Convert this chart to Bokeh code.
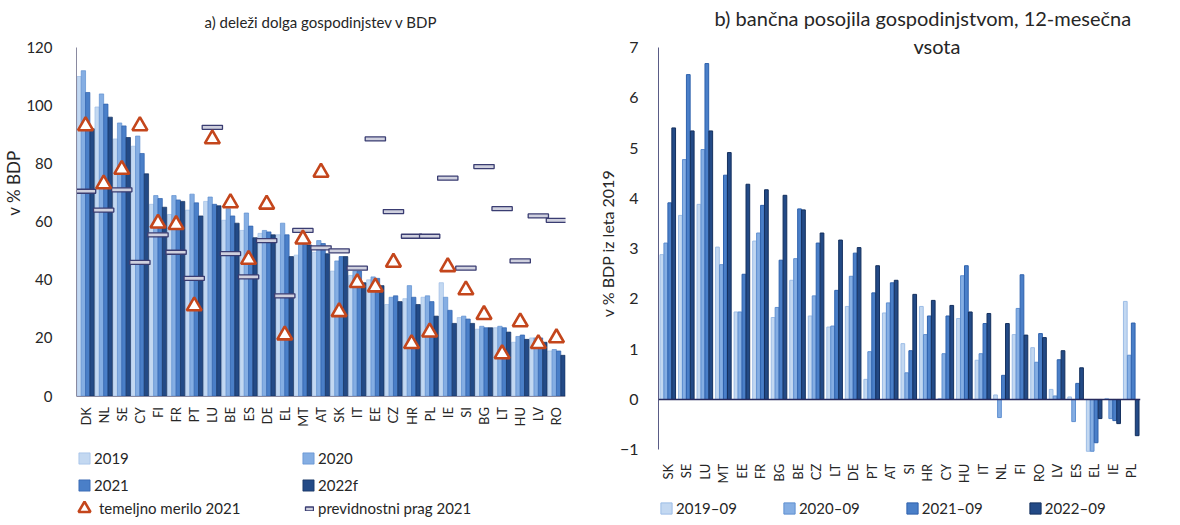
import math
from bokeh.plotting import figure
from bokeh.models import (ColumnDataSource, Legend, LegendItem, Range1d, FactorRange,
                          Span, FixedTicker, Title, Label)
from bokeh.transform import dodge
from bokeh.layouts import row
from bokeh.embed import file_html
from bokeh.resources import INLINE

# ---------------- data: a) household debt, % of GDP ----------------
cats_a = ["DK", "NL", "SE", "CY", "FI", "FR", "PT", "LU", "BE", "ES", "DE", "EL", "MT", "AT",
          "SK", "IT", "EE", "CZ", "HR", "PL", "IE", "SI", "BG", "LT", "HU", "LV", "RO"]
debt_2019 = [110, 99.5, 88.5, 86, 66, 62.5, 64, 67, 60.5, 57, 56, 55.5, 48.5, 49.5,
             43, 41.5, 40, 31.5, 33.5, 34, 39, 27, 23, 23.5, 18.5, 20, 15.5]
debt_2020 = [112, 104, 94, 89.5, 69, 69, 69.5, 68.5, 64.5, 63, 57, 59.5, 54, 53.5,
             46.5, 43, 41, 34, 38, 34.5, 34, 27.5, 24, 24, 20.5, 20, 16]
debt_2021 = [104.5, 100.5, 93, 83.5, 68, 67.5, 66.5, 66, 62, 58.5, 56.5, 55.5, 53.5, 52.5,
             48, 43, 40.5, 34.5, 34, 32.5, 29.5, 26.5, 23.5, 23.5, 21, 20, 15.5]
debt_2022f = [92, 96, 89, 76.5, 65, 67, 62, 65.5, 59.5, 54.5, 55.5, 48, 52, 49,
              48, 39, 38, 32.5, 31.5, 27.5, 25, 25, 23.5, 22, 19.5, 18.5, 14]
benchmark_2021 = [93, 73, 78, 93, 59.5, 59, 31, 88.5, 66.5, 47, 66, 21, 54, 77,
                  29, 39, 37.5, 46, 18, 22, 44.5, 36.5, 28, 14.5, 25.5, 18, 20]
threshold_2021 = [70.5, 64, 71, 46, 55.5, 49.5, 40.5, 92.5, 49, 41, 53.5, 34.5, 57, 51,
                  50, 44, 88.5, 63.5, 55, 55, 75, 44, 79, 64.5, 46.5, 62, 60.5]
yticks_a = [0, 20, 40, 60, 80, 100, 120]

# ---------------- data: b) bank loans to households, 12-month sum ----------------
cats_b = ["SK", "SE", "LU", "MT", "EE", "FR", "BG", "BE", "CZ", "LT", "DE", "PT", "AT",
          "SI", "HR", "CY", "HU", "IT", "NL", "FI", "RO", "LV", "ES", "EL", "IE", "PL"]
loan_2019_09 = [2.88, 3.66, 3.88, 3.03, 1.74, 3.15, 1.63, 2.37, 1.66, 1.44, 1.85, 0.40, 1.72,
                1.11, 1.85, 0.02, 1.61, 0.78, 0.09, 1.29, 1.03, 0.20, 0.05, -1.03, 0.02, 1.95]
loan_2020_09 = [3.11, 4.77, 4.97, 2.68, 1.74, 3.31, 1.83, 2.80, 2.06, 1.46, 2.45, 0.95, 1.92,
                0.53, 1.29, 0.91, 2.46, 0.91, -0.36, 1.81, 0.74, 0.07, -0.44, -1.03, -0.38, 0.88]
loan_2021_09 = [3.91, 6.46, 6.68, 4.46, 2.49, 3.86, 2.77, 3.79, 3.11, 2.17, 2.91, 2.12, 2.32,
                0.97, 1.66, 1.66, 2.66, 1.51, 0.48, 2.48, 1.31, 0.79, 0.32, -0.86, -0.42, 1.52]
loan_2022_09 = [5.40, 5.34, 5.34, 4.91, 4.28, 4.17, 4.06, 3.77, 3.31, 3.17, 3.02, 2.66, 2.37,
                2.09, 1.97, 1.87, 1.74, 1.71, 1.51, 1.28, 1.23, 0.97, 0.63, -0.38, -0.48, -0.72]
yticks_b = [-1, 0, 1, 2, 3, 4, 5, 6, 7]

FONT = "Lato"
TXT = "#262626"
FILLS = ["#c3d8f1", "#85aee3", "#4a7fc8", "#234a86"]
LINES = ["#9dbde6", "#5f8fd0", "#2f62ad", "#14305e"]


def style(p):
    p.xgrid.visible = False
    p.ygrid.visible = False
    p.outline_line_color = None
    p.background_fill_color = "white"
    p.border_fill_color = "white"
    p.title.text_font = FONT
    p.title.text_font_style = "normal"
    p.title.text_color = TXT
    p.title.vertical_align = "top"
    for ax in (p.xaxis, p.yaxis):
        ax.major_label_text_font = FONT
        ax.major_label_text_color = TXT
        ax.major_tick_line_color = None
        ax.minor_tick_line_color = None


def side_title(text, size, offset):
    return Title(text=text, align="right", offset=offset, standoff=0, text_font=FONT,
                 text_font_style="normal", text_font_size=size, text_color=TXT)


def legend(items, loc, gw=14, gh=14, standoff=3, **kw):
    return Legend(items=items, location=loc, border_line_color=None, background_fill_alpha=0,
                  padding=0, margin=0, glyph_width=gw, glyph_height=gh, label_standoff=standoff,
                  label_height=16, label_text_font=FONT, label_text_font_size="15px",
                  label_text_color=TXT, **kw)


# ================= chart a =================
src_a = ColumnDataSource(dict(cat=cats_a, y19=debt_2019, y20=debt_2020, y21=debt_2021,
                              y22=debt_2022f, bench=benchmark_2021, thr=threshold_2021))
p1 = figure(width=595, height=517, x_range=FactorRange(*cats_a), y_range=Range1d(-41.83, 123.43),
            output_backend="svg", toolbar_location=None,
            title="a) deleži dolga gospodinjstev v BDP",
            min_border_left=68, min_border_right=30, min_border_top=35, min_border_bottom=0)
style(p1)
p1.title.align = "center"
p1.title.text_font_size = "15px"
p1.title.standoff = 10
bars_a = []
for col, off, fc, lc in zip(["y19", "y20", "y21", "y22"], [-0.36, -0.12, 0.12, 0.36], FILLS, LINES):
    r = p1.vbar(x=dodge("cat", off, range=p1.x_range), top=col, width=0.24, bottom=0,
                source=src_a, fill_color=fc, line_color=lc, line_width=0.7)
    bars_a.append(r)
r_thr = p1.rect(x="cat", y="thr", width=1.12, height=4, height_units="screen", source=src_a,
                fill_color="#cfd0de", line_color="#3a3d72", line_width=1.3)
r_bench = p1.scatter(x="cat", y="bench", marker="triangle", size=15, source=src_a,
                     fill_color="white", line_color="#c4461c", line_width=2.6)

p1.yaxis.ticker = FixedTicker(ticks=yticks_a)
p1.yaxis.bounds = (0, 120)
p1.yaxis.major_label_text_font_size = "15px"
p1.yaxis.major_label_standoff = 18
p1.yaxis.axis_line_color = "#8a8aa0"
p1.add_layout(side_title("v % BDP", "17px", 113), "left")
p1.xaxis.fixed_location = 0
p1.xaxis.axis_line_color = "#8a8aa0"
p1.xaxis.major_label_orientation = math.pi / 2
p1.xaxis.major_label_text_font_size = "13px"
p1.xaxis.major_label_standoff = 5

lgA1 = legend([LegendItem(label="2019", renderers=[bars_a[0]]),
               LegendItem(label="2021", renderers=[bars_a[2]])], (1, 23), spacing=9)
lgA2 = legend([LegendItem(label="temeljno merilo 2021", renderers=[r_bench])],
              (-7, -6), gw=30, gh=30, standoff=-5)
lgB1 = legend([LegendItem(label="2020", renderers=[bars_a[1]]),
               LegendItem(label="2022f", renderers=[bars_a[3]])], (225, 23), spacing=9)
lgB2 = legend([LegendItem(label="previdnostni prag 2021", renderers=[r_thr])],
              (228, 0), gw=10, gh=5, standoff=4)
for lg in (lgA1, lgA2, lgB1, lgB2):
    p1.add_layout(lg, "center")

# ================= chart b =================
src_b = ColumnDataSource(dict(cat=cats_b, y19=loan_2019_09, y20=loan_2020_09,
                              y21=loan_2021_09, y22=loan_2022_09))
p2 = figure(width=569, height=517, x_range=FactorRange(*cats_b), y_range=Range1d(-2.347, 7.198),
            output_backend="svg", toolbar_location=None,
            title="b) bančna posojila gospodinjstvom, 12-mesečna",
            min_border_left=59, min_border_right=24, min_border_top=35, min_border_bottom=0)
style(p2)
p2.title.align = "left"
p2.title.offset = 56
p2.title.text_font_size = "20px"
p2.title.standoff = 11
p2.add_layout(Label(x=13.75, y=7.03, text="vsota", text_font=FONT, text_font_size="20px",
                    text_color=TXT, text_baseline="middle", text_align="left"))
bars_b = []
for col, off, fc, lc in zip(["y19", "y20", "y21", "y22"], [-0.32, -0.107, 0.107, 0.32], FILLS, LINES):
    r = p2.vbar(x=dodge("cat", off, range=p2.x_range), top=col, width=0.2, bottom=0,
                source=src_b, fill_color=fc, line_color=lc, line_width=1)
    bars_b.append(r)
p2.add_layout(Span(location=0, dimension="width", line_color="#262a5c", line_width=1.4))

p2.yaxis.ticker = FixedTicker(ticks=yticks_b)
p2.yaxis.bounds = (-1, 7)
p2.yaxis.major_label_text_font_size = "16px"
p2.yaxis.major_label_standoff = 14
p2.yaxis.axis_line_color = "#5a5c86"
p2.add_layout(side_title("v % BDP iz leta 2019", "16px", 132), "left")
p2.xaxis.fixed_location = -1
p2.xaxis.axis_line_color = None
p2.xaxis.major_label_orientation = math.pi / 2
p2.xaxis.major_label_text_font_size = "13px"
p2.xaxis.major_label_standoff = 8

lgC = legend([LegendItem(label="2019–09", renderers=[bars_b[0]]),
              LegendItem(label="2020–09", renderers=[bars_b[1]]),
              LegendItem(label="2021–09", renderers=[bars_b[2]]),
              LegendItem(label="2022–09", renderers=[bars_b[3]])],
             (1, 0), orientation="horizontal", spacing=45, label_width=55)
p2.add_layout(lgC, "center")

layout = row(p1, p2)
open("out.html", "w").write(file_html(layout, INLINE))
